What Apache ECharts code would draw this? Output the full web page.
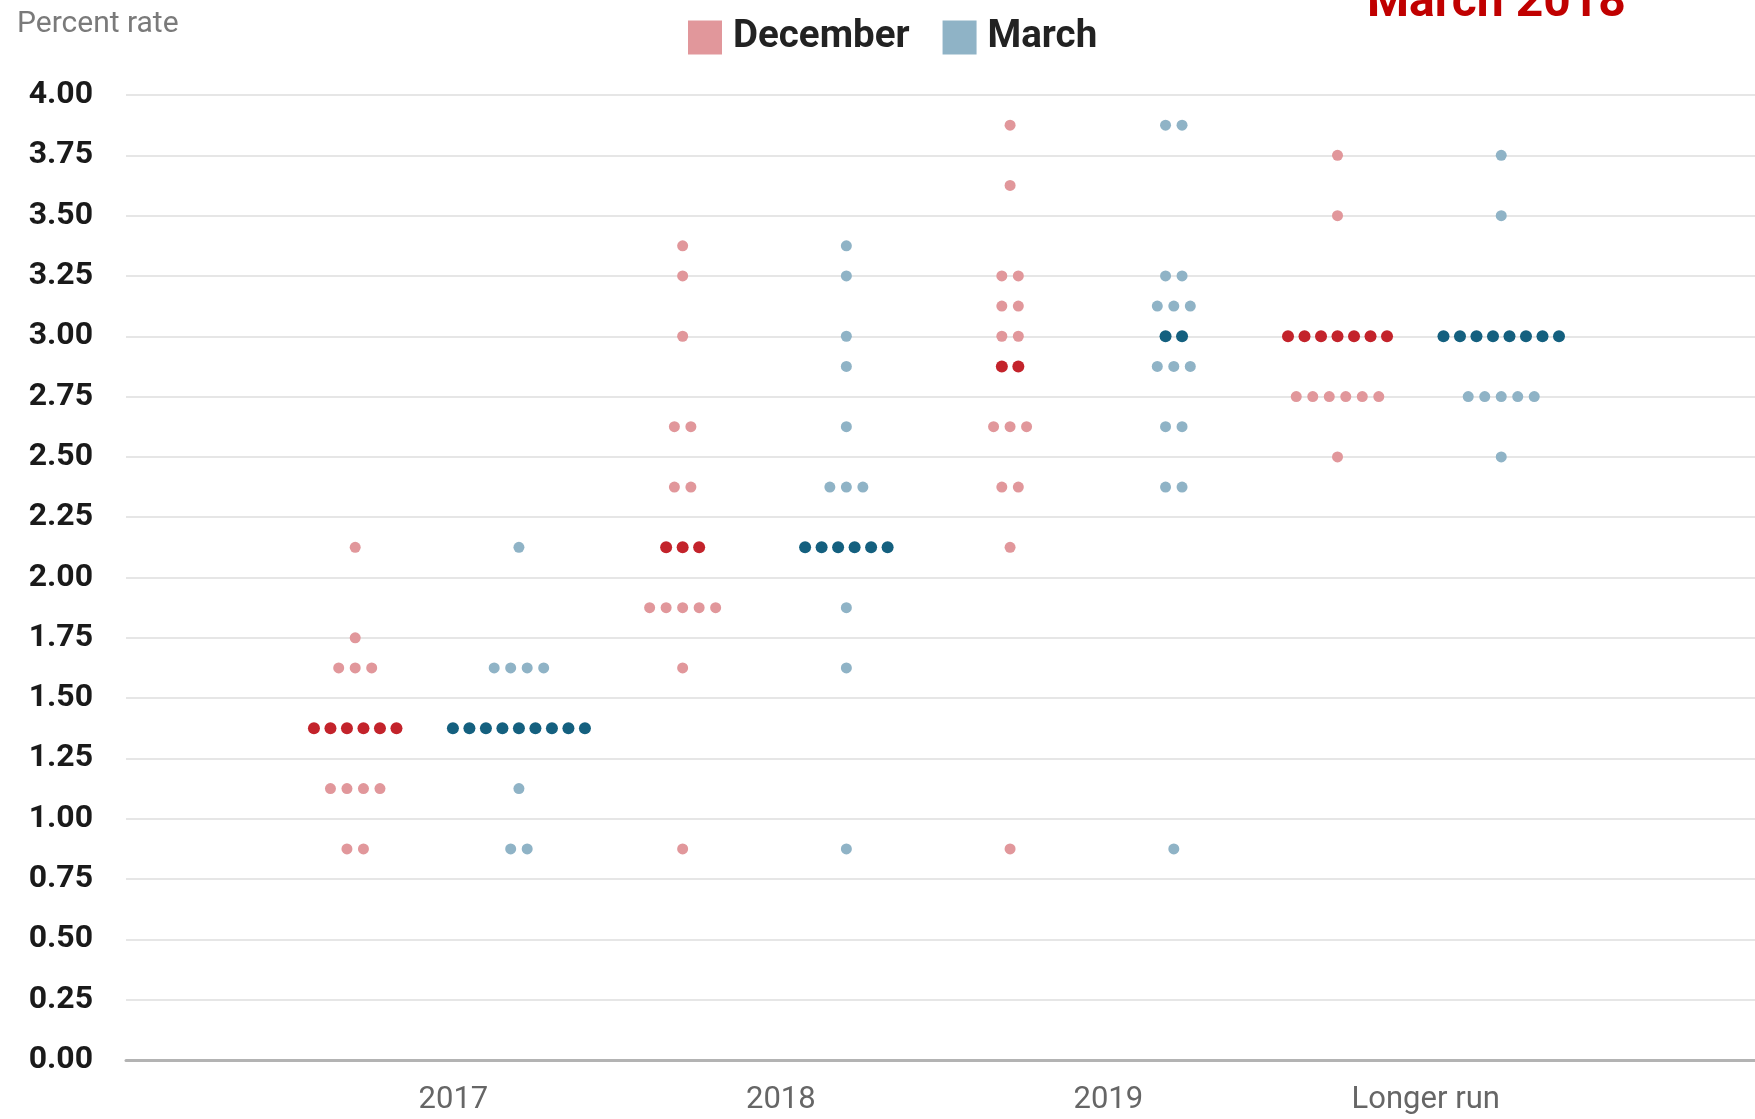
<!DOCTYPE html>
<html>
<head>
<meta charset="utf-8">
<script src="https://cdn.jsdelivr.net/npm/echarts@6/dist/echarts.min.js"></script>
<style>
  html, body { margin: 0; padding: 0; background: #fff; }
  #chart { width: 1755px; height: 1119px; }
</style>
</head>
<body>
<div id="chart"></div>
<script>
// x-axis categories
const years = ['2017', '2018', '2019', 'Longer run'];
const yTicks = [0, 0.25, 0.5, 0.75, 1, 1.25, 1.5, 1.75, 2, 2.25, 2.5, 2.75, 3, 3.25, 3.5, 3.75, 4];

// [rate, number of dots] per column, December projections
const dec2017 = [[2.125, 1], [1.75, 1], [1.625, 3], [1.375, 6], [1.125, 4], [0.875, 2]];
const dec2018 = [[3.375, 1], [3.25, 1], [3.0, 1], [2.625, 2], [2.375, 2], [2.125, 3], [1.875, 5], [1.625, 1], [0.875, 1]];
const dec2019 = [[3.875, 1], [3.625, 1], [3.25, 2], [3.125, 2], [3.0, 2], [2.875, 2], [2.625, 3], [2.375, 2], [2.125, 1], [0.875, 1]];
const decLonger = [[3.75, 1], [3.5, 1], [3.0, 7], [2.75, 6], [2.5, 1]];

// March projections
const mar2017 = [[2.125, 1], [1.625, 4], [1.375, 9], [1.125, 1], [0.875, 2]];
const mar2018 = [[3.375, 1], [3.25, 1], [3.0, 1], [2.875, 1], [2.625, 1], [2.375, 3], [2.125, 6], [1.875, 1], [1.625, 1], [0.875, 1]];
const mar2019 = [[3.875, 2], [3.25, 2], [3.125, 3], [3.0, 2], [2.875, 3], [2.625, 2], [2.375, 2], [0.875, 1]];
const marLonger = [[3.75, 1], [3.5, 1], [3.0, 8], [2.75, 5], [2.5, 1]];

// median row of each column (drawn dark)
const decMedians = [1.375, 2.125, 2.875, 3.0];
const marMedians = [1.375, 2.125, 3.0, 3.0];

const DOT_STEP = 0.0504;   // horizontal gap between dots, in x units
const DEC_OFFSET = -0.3;   // column offset from the year tick
const MAR_OFFSET = 0.2;

function buildDots(columns, medians, offset, dark) {
  const out = [];
  columns.forEach((col, i) => {
    const center = i + 1 + offset;
    col.forEach(([rate, count]) => {
      const isMed = rate === medians[i];
      for (let j = 0; j < count; j++) {
        const item = { value: [center + (j - (count - 1) / 2) * DOT_STEP, rate] };
        if (isMed) item.itemStyle = { color: dark }, item.symbolSize = 12;
        out.push(item);
      }
    });
  });
  return out;
}

const chart = echarts.init(document.getElementById('chart'));
chart.setOption({
  backgroundColor: '#fff',
  animation: false,
  textStyle: { fontFamily: 'Roboto' },
  title: [
    { text: 'Percent rate', left: 12, top: 4, textStyle: { fontSize: 30, fontWeight: 'normal', color: '#7a7a7a' } },
    { text: 'March 2018', left: 1362, top: -25, textStyle: { fontSize: 48, fontWeight: 'bold', color: '#c00000' } },
  ],
  legend: {
    left: 683, top: 13,
    icon: 'rect', itemWidth: 34, itemHeight: 34, itemGap: 33,
    textStyle: { fontSize: 38.5, fontWeight: 'bold', color: '#222', padding: [0, 0, 0, 6] },
    data: ['December', 'March'],
  },
  grid: { left: 126, right: 0, top: 95, bottom: 59, containLabel: false },
  xAxis: {
    type: 'value', min: 0, max: 4.975, interval: 1,
    axisLine: { show: true, lineStyle: { color: '#b3b3b3', width: 3 } },
    axisTick: { show: false },
    splitLine: { show: false },
    axisLabel: {
      fontSize: 31, color: '#666', margin: 25, showMaxLabel: false,
      formatter: v => {
        const name = years[Math.round(v) - 1] || '';
        return name === 'Longer run' ? '{lr|' + name + '}' : name;
      },
      rich: { lr: { fontSize: 31, color: '#666', padding: [0, 20, 0, 0] } },
    },
  },
  yAxis: {
    type: 'value', min: 0, max: 4, interval: 0.25,
    axisLine: { show: false },
    axisTick: { show: false },
    splitLine: { lineStyle: { color: '#e6e6e6', width: 2 } },
    axisLabel: {
      fontSize: 32, fontWeight: 'bold', color: '#1a1a1a', margin: 33, padding: [5, 0, 0, 0],
      formatter: v => (yTicks.includes(v) ? v.toFixed(2) : ''),
    },
  },
  series: [
    {
      name: 'December', type: 'scatter', symbolSize: 11,
      itemStyle: { color: '#e1979b', opacity: 1 },
      data: buildDots([dec2017, dec2018, dec2019, decLonger], decMedians, DEC_OFFSET, '#c3232b'),
    },
    {
      name: 'March', type: 'scatter', symbolSize: 11,
      itemStyle: { color: '#8fb3c6', opacity: 1 },
      data: buildDots([mar2017, mar2018, mar2019, marLonger], marMedians, MAR_OFFSET, '#14607f'),
    },
  ],
});
</script>
</body>
</html>
